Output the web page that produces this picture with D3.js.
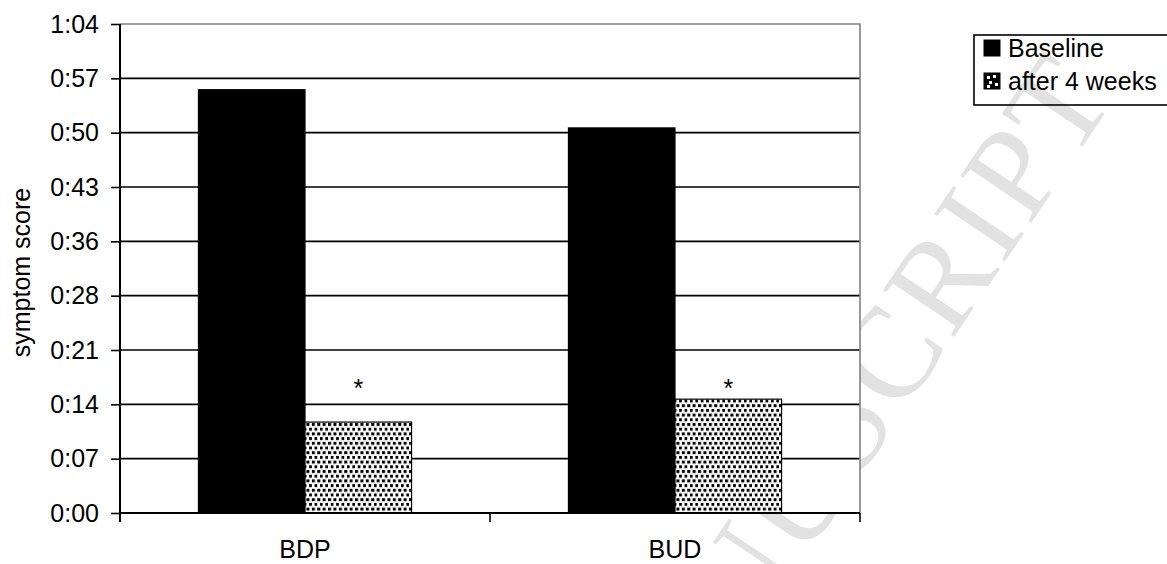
<!DOCTYPE html>
<html>
<head>
<meta charset="utf-8">
<script src="https://cdn.jsdelivr.net/npm/d3@7"></script>
<style>
  body { margin: 0; background: #fff; }
  svg { display: block; font-family: "Liberation Sans", Arial, sans-serif; }
</style>
</head>
<body>
<svg id="chart" width="1167" height="564"></svg>
<script>
var categories = ["BDP", "BUD"];
var seriesNames = ["Baseline", "after 4 weeks"];
// symptom score, in minutes (axis is shown as h:mm)
var baseline = [55.4, 50.4];
var after4weeks = [11.9, 14.9];
var tickLabels = ["0:00", "0:07", "0:14", "0:21", "0:28", "0:36", "0:43", "0:50", "0:57", "1:04"];
var yMax = 64;
var starLevel = 15.2;  // where the "*" marks sit

var svg = d3.select("#chart");
var plotL = 120, plotR = 860, plotT = 24, plotB = 513;
var font = 25;

/* watermark, sits under the plot area */
svg.append("text")
    .attr("transform", "translate(1118,94) rotate(-56)")
    .attr("text-anchor", "end")
    .style("font-family", "'Liberation Serif', 'Times New Roman', serif")
    .style("font-size", "130px")
    .style("letter-spacing", "4px")
    .style("fill", "#e2e2e2")
    .text("ACCEPTED MANUSCRIPT");

var defs = svg.append("defs");
var pat = defs.append("pattern")
    .attr("id", "dots")
    .attr("patternUnits", "userSpaceOnUse")
    .attr("width", 5.4).attr("height", 9.4);
pat.append("rect").attr("width", 5.4).attr("height", 9.4).attr("fill", "#fff");
pat.append("rect").attr("x", 0).attr("y", 0).attr("width", 3).attr("height", 3).attr("fill", "#000");
pat.append("rect").attr("x", 2.7).attr("y", 4.7).attr("width", 3).attr("height", 3).attr("fill", "#000");

var x0 = d3.scaleBand().domain(categories).range([plotL, plotR])
    .paddingInner(0.424).paddingOuter(0.212);
var x1 = d3.scaleBand().domain(seriesNames).range([0, x0.bandwidth()]);
var y = d3.scaleLinear().domain([0, yMax]).range([plotB, plotT]);

var yTicks = tickLabels.map(function (d, i) { return i * yMax / (tickLabels.length - 1); });

svg.append("rect")
    .attr("x", plotL).attr("y", plotT)
    .attr("width", plotR - plotL).attr("height", plotB - plotT)
    .attr("fill", "#fff");

/* gridlines */
svg.append("g").selectAll("line")
    .data(yTicks.slice(1, -1))
    .enter().append("line")
    .attr("x1", plotL).attr("x2", plotR)
    .attr("y1", function (d) { return y(d); })
    .attr("y2", function (d) { return y(d); })
    .attr("stroke", "#000").attr("stroke-width", 1.6);

/* plot border top/right in gray */
svg.append("path")
    .attr("d", "M" + plotL + "," + y(yMax) + "H" + plotR + "V" + plotB)
    .attr("fill", "none").attr("stroke", "#808080").attr("stroke-width", 1.6);

/* bars */
var rows = categories.map(function (c, i) {
    return { cat: c, values: [baseline[i], after4weeks[i]] };
});
var groups = svg.append("g").selectAll("g")
    .data(rows)
    .enter().append("g")
    .attr("transform", function (d) { return "translate(" + x0(d.cat) + ",0)"; });

groups.selectAll("rect")
    .data(function (d) { return d.values.map(function (v, j) { return { s: seriesNames[j], v: v }; }); })
    .enter().append("rect")
    .attr("x", function (d) { return x1(d.s); })
    .attr("y", function (d) { return y(d.v); })
    .attr("width", x1.bandwidth())
    .attr("height", function (d) { return y(0) - y(d.v); })
    .attr("fill", function (d, j) { return j === 0 ? "#000" : "url(#dots)"; })
    .attr("stroke", "#000").attr("stroke-width", 1.2);

/* significance marks */
groups.append("text")
    .attr("x", x1(seriesNames[1]) + x1.bandwidth() / 2)
    .attr("y", y(starLevel))
    .attr("text-anchor", "middle")
    .style("font-size", font + "px")
    .text("*");

/* y axis */
var yAxis = d3.axisLeft(y)
    .tickValues(yTicks)
    .tickFormat(function (d, i) { return tickLabels[i]; })
    .tickSize(9).tickPadding(12);
var gy = svg.append("g").attr("transform", "translate(" + plotL + ",0)").call(yAxis);
gy.select(".domain").remove();
gy.selectAll("line").attr("stroke", "#000").attr("stroke-width", 1.6);
gy.selectAll("text").style("font-size", font + "px").style("fill", "#000");
svg.append("line")
    .attr("x1", plotL).attr("x2", plotL)
    .attr("y1", plotT).attr("y2", plotB + 9)
    .attr("stroke", "#000").attr("stroke-width", 2);

/* x axis */
var xAxis = d3.axisBottom(x0).tickSize(0).tickPadding(27);
var gx = svg.append("g").attr("transform", "translate(0," + plotB + ")").call(xAxis);
gx.select(".domain").remove();
gx.selectAll("text").style("font-size", font + "px").style("fill", "#000");
svg.append("line")
    .attr("x1", plotL).attr("x2", plotR)
    .attr("y1", plotB).attr("y2", plotB)
    .attr("stroke", "#000").attr("stroke-width", 2);
var edges = categories.map(function (c) { return x0(c) + x0.bandwidth() + x0.step() * x0.paddingInner() / 2; });
svg.append("g").selectAll("line")
    .data(edges)
    .enter().append("line")
    .attr("x1", function (d) { return d; }).attr("x2", function (d) { return d; })
    .attr("y1", plotB).attr("y2", plotB + 9)
    .attr("stroke", "#000").attr("stroke-width", 1.6);

/* y title */
svg.append("text")
    .attr("transform", "translate(30," + ((plotT + plotB) / 2 + 4) + ") rotate(-90)")
    .attr("text-anchor", "middle")
    .style("font-size", font + "px")
    .text("symptom score");

/* legend */
var lg = svg.append("g").attr("transform", "translate(974,35)");
lg.append("rect")
    .attr("width", 230).attr("height", 70)
    .attr("fill", "none").attr("stroke", "#000").attr("stroke-width", 1.6);
var items = lg.selectAll("g.item")
    .data(seriesNames)
    .enter().append("g")
    .attr("class", "item")
    .attr("transform", function (d, i) { return "translate(10," + (5 + i * 33) + ")"; });
items.append("rect")
    .attr("width", 16).attr("height", 16)
    .attr("fill", "#000").attr("stroke", "#000");
items.filter(function (d, i) { return i === 1; }).each(function () {
    var g = d3.select(this);
    [[3, 3], [9, 2], [5, 8], [11, 10], [3, 12]].forEach(function (p) {
        g.append("rect").attr("x", p[0]).attr("y", p[1])
            .attr("width", 3).attr("height", 3).attr("fill", "#fff");
    });
});
items.append("text")
    .attr("x", 24).attr("y", 17)
    .style("font-size", font + "px")
    .text(function (d) { return d; });
</script>
</body>
</html>
